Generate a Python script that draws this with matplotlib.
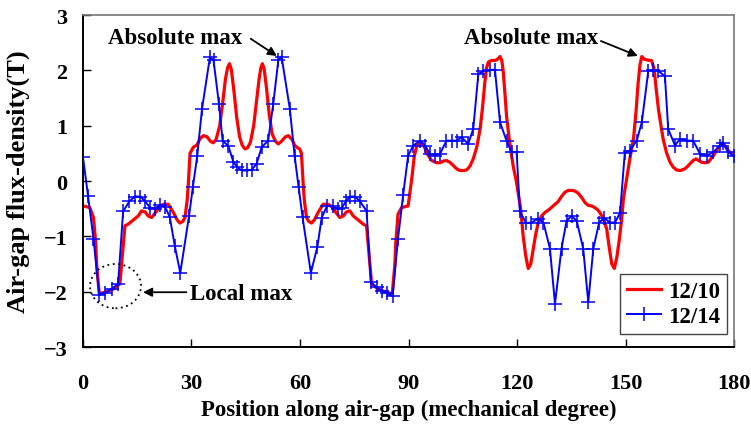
import matplotlib
matplotlib.use("Agg")
import matplotlib.pyplot as plt
from matplotlib.patches import Ellipse

# 12/10 machine: air-gap flux density (T) vs. mechanical position (deg)
red_x = [0.0, 1.9, 2.9, 3.5, 3.8, 4.5, 6.5, 8.5, 10.2, 10.8, 11.6, 12.5, 14.0, 15.3,
         16.2, 17.2, 18.0, 19.0, 20.4, 21.3, 22.2, 23.6, 25.0, 26.0, 26.8, 27.6, 28.2,
         28.8, 29.1, 29.6, 30.5, 31.5, 32.3, 33.3, 34.3, 35.2, 36.0, 36.8, 37.8, 38.6,
         39.4, 40.0, 40.5, 41.0, 41.7, 42.5, 43.3, 44.0, 44.8, 45.5, 46.3, 47.2, 48.0,
         48.7, 49.2, 49.6, 50.1, 50.7, 51.5, 52.3, 53.2, 54.0, 54.9, 56.0, 56.8, 57.8,
         58.5, 59.1, 59.9, 60.4, 60.9, 61.2, 61.8, 62.4, 63.2, 64.0, 65.0, 66.4, 67.8,
         68.7, 69.6, 71.0, 72.0, 72.8, 73.8, 74.7, 76.0, 77.5, 78.4, 79.2, 79.8, 81.5,
         83.5, 85.5, 86.2, 86.5, 87.1, 88.1, 89.9, 90.9, 91.6, 92.3, 93.6, 94.5, 95.3,
         96.4, 97.8, 98.7, 99.6, 100.5, 101.4, 102.4, 103.3, 104.2, 105.2, 106.1, 107.0,
         107.9, 108.9, 109.8, 110.5, 111.1, 111.6, 112.1, 113.0, 114.0, 114.6, 115.3,
         115.8, 116.2, 116.7, 117.1, 117.8, 118.5, 119.0, 119.8, 121.0, 121.7, 122.4,
         123.1, 123.8, 124.5, 125.2, 125.9, 126.8, 127.7, 128.8, 130.0, 131.4, 132.3,
         133.3, 134.2, 135.1, 136.0, 136.9, 137.9, 138.8, 139.7, 140.6, 141.5, 142.3,
         142.9, 143.9, 144.8, 145.5, 146.2, 146.9, 147.6, 148.3, 149.0, 149.4, 150.3,
         151.2, 152.2, 152.9, 153.5, 154.0, 154.5, 155.2, 155.8, 156.5, 157.2, 157.9,
         158.5, 159.1, 159.8, 160.4, 161.3, 162.3, 163.2, 164.1, 165.2, 166.4, 167.1,
         167.8, 168.7, 169.5, 170.2, 171.0, 172.0, 172.9, 173.6, 174.3, 175.5, 176.8,
         177.6, 178.4, 180.0]
red_y = [-0.45, -0.48, -0.66, -1.10, -1.53, -2.04, -2.00, -1.95, -1.86, -1.40, -0.81,
         -0.78, -0.70, -0.63, -0.54, -0.56, -0.63, -0.66, -0.54, -0.46, -0.42, -0.42,
         -0.57, -0.70, -0.76, -0.73, -0.66, -0.35, -0.08, 0.50, 0.61, 0.65, 0.76, 0.82,
         0.80, 0.72, 0.69, 0.75, 1.00, 1.40, 1.85, 2.05, 2.12, 2.02, 1.65, 1.15, 0.80,
         0.65, 0.58, 0.60, 0.70, 1.00, 1.45, 1.85, 2.05, 2.12, 2.02, 1.70, 1.20, 0.85,
         0.72, 0.67, 0.72, 0.80, 0.82, 0.75, 0.65, 0.61, 0.58, 0.50, -0.08, -0.35, -0.66,
         -0.73, -0.76, -0.70, -0.57, -0.42, -0.42, -0.46, -0.54, -0.66, -0.63, -0.56,
         -0.54, -0.63, -0.70, -0.78, -0.81, -1.40, -1.86, -1.95, -2.00, -2.04, -1.53,
         -1.10, -0.60, -0.48, -0.45, 0.04, 0.45, 0.64, 0.69, 0.60, 0.48, 0.37, 0.33,
         0.33, 0.36, 0.37, 0.34, 0.28, 0.22, 0.19, 0.19, 0.20, 0.27, 0.40, 0.62, 0.94,
         1.35, 1.78, 2.05, 2.15, 2.18, 2.18, 2.20, 2.25, 2.18, 1.97, 1.55, 1.18, 0.78,
         0.46, 0.25, 0.00, -0.50, -0.99, -1.35, -1.58, -1.50, -1.23, -0.95, -0.75,
         -0.63, -0.57, -0.52, -0.45, -0.37, -0.28, -0.20, -0.17, -0.17, -0.18, -0.22,
         -0.30, -0.39, -0.44, -0.45, -0.48, -0.52, -0.57, -0.68, -0.87, -1.20, -1.50,
         -1.58, -1.38, -1.05, -0.65, -0.33, 0.04, 0.40, 0.76, 1.25, 1.78, 2.10, 2.25,
         2.20, 2.19, 2.18, 2.18, 2.03, 1.65, 1.30, 1.00, 0.76, 0.52, 0.34, 0.25, 0.20,
         0.19, 0.22, 0.26, 0.31, 0.37, 0.40, 0.37, 0.34, 0.33, 0.34, 0.40, 0.46, 0.58,
         0.69, 0.63, 0.55, 0.46]

# 12/14 machine: sampled points
blue_x = [0.0, 1.4, 2.9, 4.5, 6.1, 7.9, 9.7, 11.1, 12.8, 14.3, 15.8, 17.1, 18.5, 19.9,
          21.3, 22.7, 24.0, 25.4, 26.9, 29.3, 30.4, 31.6, 32.9, 35.1, 36.1, 37.6, 38.6,
          40.2, 41.6, 42.7, 43.9, 45.3, 46.6, 48.0, 49.4, 51.2, 52.6, 54.0, 54.9, 57.2,
          58.5, 59.6, 60.7, 63.0, 64.8, 66.0, 67.5, 69.0, 70.6, 71.6, 72.8, 73.9, 75.2,
          76.6, 78.4, 79.6, 81.2, 82.6, 84.0, 85.6, 87.1, 88.5, 89.9, 91.3, 93.2, 94.6,
          95.9, 97.3, 98.7, 100.5, 101.9, 103.3, 104.7, 106.5, 107.9, 109.3, 110.7,
          112.5, 113.9, 115.3, 117.1, 118.5, 119.9, 120.8, 122.5, 124.0, 125.9, 127.3,
          129.1, 130.5, 132.3, 133.7, 135.1, 136.5, 138.3, 139.7, 141.1, 142.7, 144.1,
          145.7, 147.1, 148.5, 149.8, 151.2, 153.1, 154.5, 156.3, 157.7, 159.1, 160.9,
          161.8, 163.7, 165.0, 166.9, 168.7, 170.6, 172.4, 174.3, 176.0, 177.0, 178.4,
          180.0]
blue_y = [0.43, -0.27, -1.04, -2.06, -2.03, -1.95, -1.86, -0.55, -0.37, -0.28, -0.28,
          -0.36, -0.48, -0.50, -0.43, -0.47, -0.65, -1.18, -1.66, -0.64, -0.10, 0.46,
          1.30, 2.24, 2.18, 1.39, 0.73, 0.63, 0.34, 0.25, 0.19, 0.19, 0.20, 0.31, 0.61,
          0.73, 1.39, 2.18, 2.25, 1.30, 0.46, -0.10, -0.65, -1.66, -1.19, -0.66, -0.45,
          -0.46, -0.51, -0.48, -0.36, -0.28, -0.28, -0.37, -0.54, -1.83, -1.92, -1.98,
          -2.03, -2.08, -1.04, -0.26, 0.46, 0.64, 0.73, 0.64, 0.49, 0.46, 0.49, 0.73,
          0.73, 0.73, 0.79, 0.67, 0.94, 1.93, 1.99, 2.01, 2.01, 1.06, 0.73, 0.52, 0.52,
          -0.55, -0.76, -0.75, -0.68, -0.75, -1.22, -2.22, -1.22, -0.72, -0.63, -0.72,
          -1.22, -2.19, -1.22, -0.75, -0.67, -0.75, -0.75, -0.57, 0.51, 0.55, 0.73, 1.06,
          1.99, 2.01, 1.99, 1.89, 0.94, 0.64, 0.76, 0.73, 0.73, 0.49, 0.46, 0.52, 0.64,
          0.69, 0.52, 0.45]

x_ticks = [0, 30, 60, 90, 120, 150, 180]
y_ticks = [-3, -2, -1, 0, 1, 2, 3]

plt.rcParams['font.family'] = ['Liberation Serif', 'DejaVu Serif']
plt.rcParams['font.weight'] = 'bold'

fig = plt.figure(figsize=(7.51, 4.27), dpi=100)
ax = fig.add_axes([0.1105, 0.185, 0.8669, 0.7775])

ax.plot(red_x, red_y, color='#ff0000', lw=2.3, label='12/10', zorder=2)
ax.plot(blue_x, blue_y, color='#0000ff', lw=1.4, marker='+', markersize=10.5,
        markeredgewidth=1.1, label='12/14', zorder=3)

ax.set_xlim(0, 180)
ax.set_ylim(-3, 3)
ax.set_xticks(x_ticks)
ax.set_yticks(y_ticks)
ax.tick_params(axis='both', direction='in', length=6, width=1, labelsize=16,
               top=False, right=False)
ax.tick_params(axis='x', pad=19)
ax.tick_params(axis='y', pad=11)
for lab in ax.get_xticklabels() + ax.get_yticklabels():
    lab.set_fontweight('bold')

for side in ['left', 'bottom']:
    ax.spines[side].set_color('black')
    ax.spines[side].set_linewidth(1.4)
for side in ['top', 'right']:
    ax.spines[side].set_color('#777777')
    ax.spines[side].set_linewidth(1.2)

ax.set_xlabel('Position along air-gap (mechanical degree)', fontsize=16.5,
              fontweight='bold', labelpad=4)
ax.set_ylabel('Air-gap flux-density(T)', fontsize=19, fontweight='bold', labelpad=10)

arrow = dict(arrowstyle='-|>', color='black', lw=1.3, mutation_scale=13,
             shrinkA=0, shrinkB=0)
ax.text(25.4, 2.60, 'Absolute max', fontsize=16.5, fontweight='bold',
        ha='center', va='center')
ax.annotate('', xy=(53.6, 2.26), xytext=(46.4, 2.57), arrowprops=arrow)
ax.text(123.9, 2.60, 'Absolute max', fontsize=16.5, fontweight='bold',
        ha='center', va='center')
ax.annotate('', xy=(153.4, 2.26), xytext=(143.2, 2.53), arrowprops=arrow)

ax.text(29.6, -2.03, 'Local max', fontsize=16.5, fontweight='bold',
        ha='left', va='center')
ax.annotate('', xy=(16.6, -2.01), xytext=(28.6, -2.01), arrowprops=arrow)
ax.add_patch(Ellipse((9.0, -1.90), 14.1, 0.80, fill=False, edgecolor='black',
                     linestyle=(0, (1, 2)), lw=1.3, zorder=4))

leg = ax.legend(loc='lower right', bbox_to_anchor=(0.989, 0.039), borderaxespad=0,
                fancybox=False, edgecolor='#444444', framealpha=1,
                prop={'size': 16.5, 'weight': 'bold'}, handlelength=1.5,
                handletextpad=0.3, borderpad=0.3, labelspacing=0.2)
leg.get_frame().set_linewidth(1.0)

fig.savefig('out.png', dpi=100)
